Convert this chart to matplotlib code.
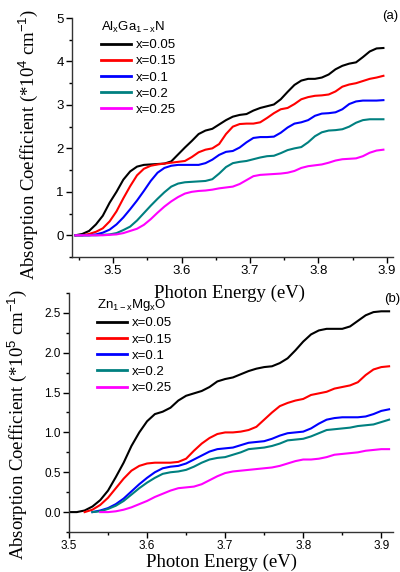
import numpy as np
import matplotlib
matplotlib.use("Agg")
import matplotlib.pyplot as plt
from matplotlib.ticker import MultipleLocator, FormatStrFormatter

plt.rcParams['font.family'] = ['Liberation Sans', 'DejaVu Sans']
plt.rcParams['mathtext.fontset'] = 'custom'
plt.rcParams['mathtext.rm'] = 'Liberation Sans'
plt.rcParams['mathtext.it'] = 'Liberation Sans'

labels = ["x=0.05", "x=0.15", "x=0.1", "x=0.2", "x=0.25"]
colors = ["#000000", "#ff0000", "#0000ff", "#008080", "#ff00ff"]

# (a) AlGaN, photon energy 3.445 .. 3.895 eV every 0.01 eV, in 1e4 cm^-1
energy_a = np.round(np.arange(3.445, 3.9, 0.01), 3)
algan_005 = [0.0, 0.03, 0.1, 0.25, 0.45, 0.75, 1.0, 1.28, 1.47, 1.58,
             1.62, 1.63, 1.64, 1.65, 1.7, 1.86, 2.02, 2.17, 2.33, 2.41,
             2.45, 2.55, 2.65, 2.73, 2.77, 2.79, 2.87, 2.93, 2.97, 3.01,
             3.13, 3.3, 3.46, 3.56, 3.6, 3.6, 3.63, 3.7, 3.82, 3.9,
             3.95, 3.98, 4.1, 4.23, 4.3, 4.31]
algan_015 = [0.0, 0.0, 0.03, 0.08, 0.16, 0.32, 0.55, 0.85, 1.13, 1.38,
             1.53, 1.6, 1.63, 1.65, 1.67, 1.69, 1.71, 1.8, 1.91, 1.97,
             2.0, 2.1, 2.33, 2.5, 2.56, 2.57, 2.57, 2.6, 2.7, 2.81,
             2.9, 2.93, 3.02, 3.13, 3.18, 3.21, 3.22, 3.24, 3.31, 3.42,
             3.47, 3.5, 3.55, 3.6, 3.63, 3.67]
algan_010 = [0.0, 0.0, 0.0, 0.02, 0.06, 0.13, 0.25, 0.41, 0.6, 0.8,
             1.02, 1.25, 1.44, 1.55, 1.6, 1.62, 1.62, 1.62, 1.62, 1.66,
             1.74, 1.85, 1.92, 1.94, 2.02, 2.14, 2.24, 2.26, 2.26, 2.27,
             2.36, 2.48, 2.57, 2.6, 2.65, 2.75, 2.8, 2.81, 2.83, 2.9,
             3.02, 3.08, 3.1, 3.1, 3.1, 3.11]
algan_020 = [0.0, 0.0, 0.0, 0.0, 0.01, 0.02, 0.05, 0.12, 0.2, 0.34,
             0.51, 0.68, 0.84, 0.99, 1.12, 1.19, 1.22, 1.23, 1.24, 1.25,
             1.29, 1.42, 1.57, 1.66, 1.69, 1.71, 1.75, 1.79, 1.82, 1.83,
             1.89, 1.96, 2.0, 2.03, 2.14, 2.28, 2.37, 2.41, 2.42, 2.44,
             2.5, 2.59, 2.65, 2.67, 2.67, 2.67]
algan_025 = [0.0, 0.0, 0.0, 0.0, 0.0, 0.01, 0.02, 0.05, 0.1, 0.15,
             0.24, 0.37, 0.52, 0.66, 0.78, 0.88, 0.96, 1.0, 1.02, 1.03,
             1.05, 1.08, 1.1, 1.12, 1.18, 1.27, 1.36, 1.39, 1.4, 1.41,
             1.42, 1.44, 1.48, 1.55, 1.59, 1.61, 1.63, 1.67, 1.72, 1.75,
             1.76, 1.77, 1.82, 1.9, 1.95, 1.97]

# (b) ZnMgO, photon energy 3.50 .. 3.91 eV every 0.01 eV, in 1e5 cm^-1
energy_b = np.round(np.arange(3.50, 3.915, 0.01), 3)
nan = np.nan
znmgo_005 = [0.0, 0.0, 0.02, 0.07, 0.15, 0.27, 0.44, 0.62, 0.83, 1.0,
             1.14, 1.23, 1.26, 1.31, 1.4, 1.46, 1.49, 1.52, 1.57, 1.64,
             1.67, 1.69, 1.73, 1.77, 1.8, 1.82, 1.83, 1.87, 1.93, 2.03,
             2.14, 2.23, 2.28, 2.3, 2.3, 2.3, 2.33, 2.4, 2.47, 2.51,
             2.52, 2.52]
znmgo_015 = [nan, nan, 0.0, 0.03, 0.09, 0.18, 0.3, 0.42, 0.52, 0.58,
             0.61, 0.62, 0.62, 0.62, 0.63, 0.67, 0.77, 0.86, 0.93, 0.98,
             1.0, 1.0, 1.01, 1.03, 1.07, 1.16, 1.25, 1.33, 1.37, 1.4,
             1.42, 1.47, 1.49, 1.51, 1.55, 1.57, 1.59, 1.63, 1.72, 1.79,
             1.82, 1.83]
znmgo_010 = [nan, nan, nan, 0.0, 0.02, 0.05, 0.1, 0.17, 0.26, 0.35,
             0.43, 0.5, 0.55, 0.57, 0.58, 0.61, 0.66, 0.71, 0.76, 0.79,
             0.8, 0.81, 0.84, 0.87, 0.88, 0.89, 0.92, 0.96, 0.99, 1.0,
             1.01, 1.05, 1.11, 1.16, 1.18, 1.19, 1.19, 1.19, 1.2, 1.23,
             1.27, 1.29]
znmgo_020 = [nan, nan, nan, 0.0, 0.01, 0.04, 0.08, 0.14, 0.22, 0.3,
             0.37, 0.43, 0.48, 0.5, 0.51, 0.53, 0.57, 0.62, 0.66, 0.68,
             0.69, 0.72, 0.75, 0.79, 0.8, 0.81, 0.83, 0.86, 0.9, 0.91,
             0.92, 0.95, 0.99, 1.03, 1.04, 1.05, 1.06, 1.08, 1.09, 1.1,
             1.13, 1.16]
znmgo_025 = [nan, nan, nan, nan, 0.0, 0.0, 0.01, 0.03, 0.06, 0.1,
             0.14, 0.19, 0.23, 0.27, 0.3, 0.31, 0.32, 0.35, 0.4, 0.45,
             0.49, 0.51, 0.52, 0.53, 0.54, 0.55, 0.56, 0.58, 0.61, 0.64,
             0.66, 0.66, 0.67, 0.69, 0.72, 0.73, 0.74, 0.75, 0.77, 0.78,
             0.79, 0.79]

fig = plt.figure(figsize=(4.0, 5.72), dpi=100)
ax1 = fig.add_axes([0.18, 0.5507, 0.8025, 0.4178])
ax2 = fig.add_axes([0.1725, 0.0699, 0.81, 0.4179])
ax2.patch.set_alpha(0)

for y, c, lab in zip([algan_005, algan_015, algan_010, algan_020, algan_025], colors, labels):
    ax1.plot(energy_a, y, color=c, lw=1.5, label=lab)
for y, c, lab in zip([znmgo_005, znmgo_015, znmgo_010, znmgo_020, znmgo_025], colors, labels):
    ax2.plot(energy_b, y, color=c, lw=1.5, label=lab)

ax1.set_xlim(3.44, 3.909)
ax1.set_ylim(-0.5, 5)
ax1.xaxis.set_major_locator(MultipleLocator(0.1))
ax1.xaxis.set_minor_locator(MultipleLocator(0.05))
ax1.yaxis.set_major_locator(MultipleLocator(1))
ax1.yaxis.set_minor_locator(MultipleLocator(0.5))
ax1.xaxis.set_major_formatter(FormatStrFormatter('%.1f'))

ax2.set_xlim(3.5, 3.915)
ax2.set_ylim(-0.25, 2.75)
ax2.xaxis.set_major_locator(MultipleLocator(0.1))
ax2.xaxis.set_minor_locator(MultipleLocator(0.05))
ax2.yaxis.set_major_locator(MultipleLocator(0.5))
ax2.yaxis.set_minor_locator(MultipleLocator(0.25))
ax2.xaxis.set_major_formatter(FormatStrFormatter('%.1f'))
ax2.yaxis.set_major_formatter(FormatStrFormatter('%.1f'))

for ax, ls in ((ax1, 9.5), (ax2, 8.5)):
    ax.spines['top'].set_visible(False)
    ax.spines['right'].set_visible(False)
    for s in ('left', 'bottom'):
        ax.spines[s].set_linewidth(1.0)
        ax.spines[s].set_color('#333333')
    ax.tick_params(which='major', direction='out', length=4, width=1, labelsize=ls, pad=2)
    ax.tick_params(which='minor', direction='out', length=2.5, width=1)

serif = ['Liberation Serif', 'DejaVu Serif']
ax1.set_ylabel("Absorption Coefficient (*10$^4$ cm$^{-1}$)", family=serif, fontsize=13.5)
ax1.yaxis.set_label_coords(-0.1, 0.47)
ax1.set_xlabel("Photon Energy (eV)", family=serif, fontsize=13.5)
ax1.xaxis.set_label_coords(0.49, -0.115)

ax2.set_ylabel("Absorption Coefficient (*10$^5$ cm$^{-1}$)", family=serif, fontsize=13.5)
ax2.yaxis.set_label_coords(-0.123, 0.45)
ax2.set_xlabel("Photon Energy (eV)", family=serif, fontsize=13.5)
ax2.xaxis.set_label_coords(0.47, -0.09)

leg1 = ax1.legend(loc='upper left', bbox_to_anchor=(0.07, 1.02), frameon=False,
                  title="Al$_x$Ga$_{1-x}$N", fontsize=9.5, title_fontsize=9.5,
                  handlelength=2.3, handletextpad=0.35, labelspacing=0.3,
                  borderpad=0, alignment='left')
leg2 = ax2.legend(loc='upper left', bbox_to_anchor=(0.065, 1.01), frameon=False,
                  title="Zn$_{1-x}$Mg$_x$O", fontsize=9.5, title_fontsize=9.5,
                  handlelength=2.3, handletextpad=0.35, labelspacing=0.3,
                  borderpad=0, alignment='left')
for leg in (leg1, leg2):
    for h in leg.legend_handles:
        h.set_linewidth(2)

fig.text(0.955, 0.972, "(a)", fontsize=9.5, va='center')
fig.text(0.96, 0.478, "(b)", fontsize=9.5, va='center')

fig.savefig("out.png", dpi=100)
